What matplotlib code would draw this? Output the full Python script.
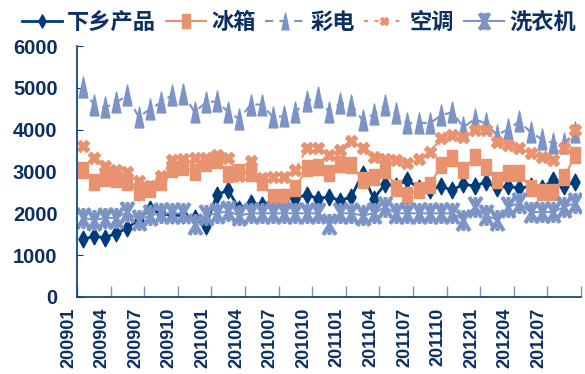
import numpy as np
import matplotlib
matplotlib.use('Agg')
import matplotlib.pyplot as plt
from matplotlib.path import Path
from matplotlib.ticker import FixedLocator, FixedFormatter

plt.rcParams['font.family'] = ['Noto Sans CJK SC', 'DejaVu Sans']

# monthly sales 200901 .. 201209
months = [f'{y}{m:02d}' for y in (2009, 2010, 2011, 2012) for m in range(1, 13)][:45]

xiaxiang = [1380, 1450, 1420, 1520, 1650, 1850, 2100, 2000, 1950, 1950, 1900, 1700,
            2450, 2550, 2100, 2250, 2200, 2300, 2400, 2350, 2450, 2350, 2400, 2300,
            2400, 2950, 2350, 2700, 2650, 2800, 2600, 2550, 2650, 2550, 2700, 2650,
            2750, 2600, 2650, 2600, 2650, 2600, 2800, 2650, 2750]
fridge = [3030, 2750, 2840, 2830, 2760, 2500, 2580, 2750, 3050, 3100, 3000, 3200,
          3280, 2950, 3000, 2960, 2750, 2390, 2390, 2600, 3080, 3100, 2960, 3170,
          3150, 2790, 2870, 3030, 2600, 2430, 2560, 2670, 3150, 3320, 3030, 3340,
          3100, 2790, 2960, 2960, 2600, 2500, 2500, 2870, 3390]
tv = [5010, 4600, 4530, 4650, 4820, 4300, 4490, 4650, 4830, 4860, 4420, 4650,
      4680, 4420, 4250, 4600, 4600, 4300, 4320, 4420, 4680, 4770, 4420, 4630,
      4600, 4220, 4370, 4580, 4390, 4150, 4170, 4150, 4340, 4420, 4060, 4250,
      4150, 3870, 4010, 4200, 3940, 3770, 3680, 3680, 3940]
aircon = [3620, 3330, 3120, 3030, 2980, 2770, 2650, 2890, 3270, 3300, 3320, 3320,
          3400, 3320, 2900, 3250, 2850, 2870, 2870, 3030, 3550, 3550, 3390, 3520,
          3740, 3550, 3340, 3310, 3270, 3200, 3300, 3460, 3790, 3870, 3820, 3990,
          3990, 3700, 3630, 3550, 3440, 3340, 3270, 3550, 3990]
washer = [1900, 1840, 1890, 1890, 2030, 1840, 1950, 2000, 2000, 2000, 1750, 1950,
          2000, 2050, 1950, 2000, 2000, 2000, 2000, 2000, 2000, 2000, 1750, 2000,
          2000, 1950, 2000, 2150, 2000, 2000, 2000, 2000, 2000, 2000, 1850, 2150,
          1950, 1850, 2150, 2250, 2030, 2030, 2030, 2150, 2250]

labels = ['下乡产品', '冰箱', '彩电', '空调', '洗衣机']

navy = '#003B7A'
salmon = '#E8926F'
lightblue = '#7B93C5'
textcol = '#0B2F63'

# tall markers
diamond = Path([(0, 1), (0.55, 0), (0, -1), (-0.55, 0), (0, 1)], closed=True)
tall_sq = Path([(-0.55, -1), (0.55, -1), (0.55, 1), (-0.55, 1), (-0.55, -1)], closed=True)
tall_tri = Path([(0, 1), (0.42, -1), (-0.42, -1), (0, 1)], closed=True)
star = Path([(-0.6, -1), (0.6, 1), (-0.6, 1), (0.6, -1), (0, -1), (0, 1)],
            [Path.MOVETO, Path.LINETO, Path.MOVETO, Path.LINETO, Path.MOVETO, Path.LINETO])

fig = plt.figure(figsize=(5.85, 3.74), dpi=100)
ax = fig.add_axes([77 / 585, 1 - 297 / 374, (581 - 77) / 585, (297 - 46) / 374])

x = np.arange(len(months))
ax.plot(x, xiaxiang, color=navy, lw=2, marker=diamond, ms=12, mec=navy, mfc=navy, label=labels[0])
ax.plot(x, fridge, color=salmon, lw=1.5, marker=tall_sq, ms=12, mec=salmon, mfc=salmon, label=labels[1])
ax.plot(x, tv, color=lightblue, lw=1.5, ls=(0, (4, 3)), marker=tall_tri, ms=15, mec=lightblue, mfc=lightblue, label=labels[2])
ax.plot(x, aircon, color=salmon, lw=1.5, ls=(0, (2, 3)), marker='X', ms=8, mec=salmon, mfc=salmon, label=labels[3])
ax.plot(x, washer, color=lightblue, lw=1.5, marker=star, ms=15, mew=3, mec=lightblue, mfc='none', label=labels[4])

ax.set_xlim(-0.5, len(months) - 0.5)
ax.set_ylim(0, 6000)
ax.set_yticks(range(0, 6001, 1000))

# tick marks between categories, a label every quarter
bounds = np.arange(-0.5, len(months), 3)
ax.xaxis.set_major_locator(FixedLocator(bounds))
ax.xaxis.set_major_formatter(FixedFormatter(months[::3] + ['']))
ax.tick_params(axis='x', direction='in', length=8, color=lightblue, width=1, pad=8)
ax.tick_params(axis='y', direction='in', length=4, color=navy, pad=14)

for t in ax.get_xticklabels():
    t.set_rotation(90)
    t.set_ha('right')
    t.set_va('top')
    t.set_fontfamily('Liberation Sans')
    t.set_fontweight('bold')
    t.set_fontsize(13)
    t.set_color(textcol)
for t in ax.get_yticklabels():
    t.set_fontfamily('Liberation Sans')
    t.set_fontweight('bold')
    t.set_fontsize(14.5)
    t.set_color(textcol)

for s in ('top', 'right'):
    ax.spines[s].set_visible(False)
ax.spines['left'].set_color(navy)
ax.spines['bottom'].set_color(navy)
ax.spines['left'].set_linewidth(1.2)
ax.spines['bottom'].set_linewidth(1.2)

fig.legend(loc='upper left', bbox_to_anchor=(0.003, 1.025), ncol=5, frameon=False,
           prop={'family': ['Noto Sans CJK SC', 'DejaVu Sans'], 'weight': 'bold', 'size': 16},
           labelcolor=textcol, handlelength=1.8, handletextpad=0.25, columnspacing=0.42,
           markerscale=0.8)

fig.savefig('out.png', dpi=100)
